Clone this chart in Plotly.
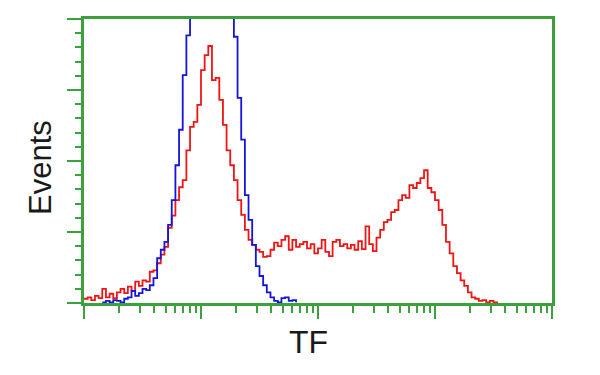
import numpy as np
import plotly.graph_objects as go

# Histogram counts (relative units, 4 = top of frame) per log channel (128 channels over 4 decades)
red_counts = [
    0.06, 0.08, 0.04, 0.10, 0.07, 0.20, 0.08, 0.13, 0.07, 0.15,
    0.20, 0.14, 0.23, 0.17, 0.30, 0.24, 0.32, 0.30, 0.44, 0.46,
    0.56, 0.68, 0.79, 1.06, 1.23, 1.45, 1.63, 1.73, 2.15, 2.48,
    2.55, 2.79, 3.28, 3.49, 3.62, 3.14, 3.17, 2.86, 2.51, 2.15,
    1.94, 1.73, 1.45, 1.24, 1.03, 0.89, 0.82, 0.75, 0.72, 0.65,
    0.66, 0.75, 0.85, 0.80, 0.89, 0.94, 0.75, 0.89, 0.79, 0.83,
    0.86, 0.77, 0.83, 0.70, 0.77, 0.89, 0.72, 0.66, 0.86, 0.89,
    0.80, 0.83, 0.77, 0.82, 0.75, 0.87, 0.76, 1.08, 0.83, 0.73,
    0.92, 1.03, 1.14, 1.17, 1.28, 1.31, 1.45, 1.52, 1.48, 1.66,
    1.62, 1.69, 1.76, 1.87, 1.62, 1.56, 1.45, 1.31, 1.10, 0.86,
    0.70, 0.52, 0.42, 0.32, 0.24, 0.15, 0.08, 0.06, 0.03, 0.04,
    0.01, 0.03, 0.01, 0.02,
]
red_start_channel = 0

blue_counts = [
    0.01, 0.03, 0.01, 0.04, 0.03, 0.01, 0.06, 0.08, 0.17, 0.10,
    0.14, 0.20, 0.18, 0.25, 0.35, 0.63, 0.75, 0.86, 1.10, 1.45,
    1.94, 2.44, 3.21, 3.77, 4.25, 4.55, 4.80, 5.00, 5.10, 5.15,
    5.10, 4.95, 4.75, 4.50, 4.30, 4.05, 3.75, 2.89, 2.30, 1.52,
    1.17, 0.82, 0.52, 0.38, 0.25, 0.15, 0.08, 0.03, 0.01, 0.07,
    0.08, 0.03, 0.04, 0.01,
]
blue_start_channel = 5

n_channels = 128
decades = 4
x_ticks = [1, 10, 100, 1000, 10000]
x_minor_ticks = [m * 10 ** d for d in range(4) for m in range(2, 10)]
y_ticks = [0, 1, 2, 3, 4]
y_minor_ticks = [round(v * 0.2, 1) for v in range(1, 20) if v % 5 != 0]

GREEN = "#3ca03c"
RED = "#f01414"
BLUE = "#1414dc"


def channel_values(start, count):
    idx = np.arange(start, start + count)
    return 10 ** (idx * decades / n_channels)


fig = go.Figure()
fig.add_trace(go.Scatter(
    x=channel_values(red_start_channel, len(red_counts)), y=red_counts,
    mode="lines", line=dict(color=RED, width=1.8, shape="hv"),
    showlegend=False, hoverinfo="skip"))
fig.add_trace(go.Scatter(
    x=channel_values(blue_start_channel, len(blue_counts)), y=blue_counts,
    mode="lines", line=dict(color=BLUE, width=1.8, shape="hv"),
    showlegend=False, hoverinfo="skip"))

fig.update_xaxes(
    type="log", range=[0, decades], showgrid=False, zeroline=False,
    showline=True, linecolor=GREEN, linewidth=2.5, mirror=True,
    tickmode="array", tickvals=x_ticks, showticklabels=False,
    ticks="outside", ticklen=13, tickwidth=2, tickcolor=GREEN,
    minor=dict(tickmode="array", tickvals=x_minor_ticks, ticks="outside",
               ticklen=7, tickwidth=2, tickcolor=GREEN, showgrid=False),
)
fig.update_yaxes(
    range=[0, 4], showgrid=False, zeroline=False,
    showline=True, linecolor=GREEN, linewidth=2.5, mirror=True,
    tickmode="array", tickvals=y_ticks, showticklabels=False,
    ticks="outside", ticklen=14, tickwidth=2, tickcolor=GREEN,
    minor=dict(tickmode="array", tickvals=y_minor_ticks, ticks="outside",
               ticklen=6, tickwidth=2, tickcolor=GREEN, showgrid=False),
)

fig.add_annotation(text="Events", xref="paper", yref="paper",
                   x=-0.092, y=0.479, xanchor="center", yanchor="middle",
                   textangle=-90, showarrow=False,
                   font=dict(family="Liberation Sans, Arial, sans-serif", size=31, color="#1a1a1a"))
fig.add_annotation(text="TF", xref="paper", yref="paper",
                   x=0.479, y=-0.137, xanchor="center", yanchor="middle",
                   showarrow=False,
                   font=dict(family="Liberation Sans, Arial, sans-serif", size=32, color="#1a1a1a"))

fig.update_layout(
    width=600, height=375,
    margin=dict(l=84, r=48, t=19, b=72),
    paper_bgcolor="white", plot_bgcolor="white",
    showlegend=False,
)

fig.write_html("out.html")
